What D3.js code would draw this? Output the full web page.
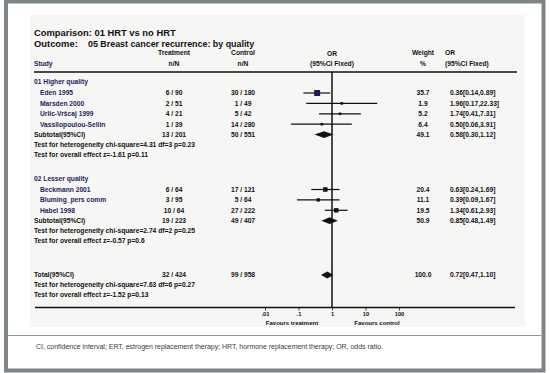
<!DOCTYPE html>
<html><head><meta charset="utf-8">
<script src="https://cdn.jsdelivr.net/npm/d3@7"></script>
<style>
html,body{margin:0;padding:0;background:#fff;}
svg{display:block;}
text{font-family:"Liberation Sans",Arial,sans-serif;}
</style></head>
<body>
<svg id="chart" width="550" height="373"></svg>
<script>
// ---- data ----
const groupNames = ["01 Higher quality", "02 Lesser quality"];
const studyNames = [
  ["Eden 1995", "Marsden 2000", "Urlic-Vršcaj 1999", "Vassilopoulou-Sellin"],
  ["Beckmann 2001", "Bluming_pers comm", "Habel 1998"]
];
const treatmentNN = [["6 / 90", "2 / 51", "4 / 21", "1 / 39"], ["6 / 64", "3 / 95", "10 / 64"]];
const controlNN = [["30 / 180", "1 / 49", "5 / 42", "14 / 280"], ["17 / 121", "5 / 64", "27 / 222"]];
const weights = [[35.7, 1.9, 5.2, 6.4], [20.4, 11.1, 19.5]];
const orValues = [[0.36, 1.96, 1.74, 0.50], [0.63, 0.39, 1.34]];
const ciLow = [[0.14, 0.17, 0.41, 0.06], [0.24, 0.09, 0.61]];
const ciHigh = [[0.89, 22.33, 7.31, 3.91], [1.69, 1.67, 2.93]];
const orLabels = [["0.36[0.14,0.89]", "1.96[0.17,22.33]", "1.74[0.41,7.31]", "0.50[0.06,3.91]"],
                  ["0.63[0.24,1.69]", "0.39[0.09,1.67]", "1.34[0.61,2.93]"]];
const subTreatment = ["13 / 201", "19 / 223"];
const subControl = ["50 / 551", "49 / 407"];
const subWeight = ["49.1", "50.9"];
const subOR = [0.58, 0.85];
const subLow = [0.30, 0.48];
const subHigh = [1.12, 1.49];
const subLabel = ["0.58[0.30,1.12]", "0.85[0.48,1.49]"];
const hetText = ["Test for heterogeneity chi-square=4.31  df=3  p=0.23", "Test for heterogeneity chi-square=2.74  df=2  p=0.25"];
const effText = ["Test for overall effect  z=-1.61  p=0.11", "Test for overall effect  z=-0.57  p=0.6"];
const totalRow = {treat: "32 / 424", ctrl: "99 / 958", weight: "100.0", or: 0.72, lo: 0.47, hi: 1.10, label: "0.72[0.47,1.10]"};
const totalHet = "Test for heterogeneity chi-square=7.63  df=6  p=0.27";
const totalEff = "Test for overall effect  z=-1.52  p=0.13";
const tickValues = [0.01, 0.1, 1, 10, 100];
const tickLabels = [".01", ".1", "1", "10", "100"];
const footnote = "CI, confidence interval; ERT, estrogen replacement therapy; HRT, hormone replacement therapy; OR, odds ratio.";

// ---- layout ----
const svg = d3.select("#chart");
const ink = "#111", navy = "#24245c";
const fs = 6.7;

// frame
svg.append("rect").attr("x", 30).attr("y", 15).attr("width", 495).attr("height", 312).attr("fill", "#f6f6f4");
svg.append("rect").attr("x", 6).attr("y", 1.5).attr("width", 537.5).attr("height", 369)
  .attr("fill", "none").attr("stroke", "#7e8588").attr("stroke-width", 4);
svg.append("line").attr("x1", 8).attr("x2", 541).attr("y1", 335.5).attr("y2", 335.5)
  .attr("stroke", "#8d9295").attr("stroke-width", 1);

const x = d3.scaleLog().domain([0.01, 100]).range([265, 399]);
const colT = 174, colC = 243, colW = 423, colOR = 450, xLeft = 34, xIndent = 40;
const yHeadLine = 72, yAxis = 307.5;

function txt(str, xx, yy, opts = {}) {
  return svg.append("text").attr("x", xx).attr("y", yy).attr("dy", "0.35em")
    .attr("font-size", opts.size || fs).attr("font-weight", opts.weight || "bold")
    .attr("fill", opts.fill || ink).attr("text-anchor", opts.anchor || "start").text(str);
}

// titles
txt("Comparison: 01 HRT vs no HRT", xLeft, 33, {size: 9.4});
txt("Outcome:", xLeft, 43.5, {size: 9.4});
txt("05 Breast cancer recurrence: by quality", 88, 43.5, {size: 8.9});

// column headers
txt("Treatment", colT, 53, {anchor: "middle"});
txt("n/N", colT, 63.5, {anchor: "middle"});
txt("Control", colC, 53, {anchor: "middle"});
txt("n/N", colC, 63.5, {anchor: "middle"});
txt("Study", xLeft, 63.5, {fill: navy});
txt("OR", x(1), 54, {anchor: "middle"});
txt("(95%CI Fixed)", x(1), 63.5, {anchor: "middle"});
txt("Weight", colW, 53, {anchor: "middle"});
txt("%", colW, 63.5, {anchor: "middle"});
txt("OR", 445, 53);
txt("(95%CI Fixed)", 445, 63.5);

svg.append("line").attr("x1", 34).attr("x2", 517).attr("y1", yHeadLine).attr("y2", yHeadLine)
  .attr("stroke", ink).attr("stroke-width", 1.3);

// vertical line at OR = 1
svg.append("line").attr("x1", x(1)).attr("x2", x(1)).attr("y1", yHeadLine).attr("y2", yAxis)
  .attr("stroke", ink).attr("stroke-width", 1.5);

function diamond(lo, mid, hi, yy) {
  const h = 3.4;
  svg.append("path").attr("d",
    `M${x(lo)},${yy} L${x(mid)},${yy - h} L${x(hi)},${yy} L${x(mid)},${yy + h} Z`).attr("fill", ink);
}

const groupTop = [82, 178.5];
const rowStep = 10.4;
groupNames.forEach((g, gi) => {
  let y0 = groupTop[gi];
  txt(g, xLeft, y0, {fill: navy});
  studyNames[gi].forEach((s, i) => {
    const yy = y0 + 11 + i * rowStep;
    txt(s, xIndent, yy, {fill: navy});
    txt(treatmentNN[gi][i], colT, yy, {anchor: "middle"});
    txt(controlNN[gi][i], colC, yy, {anchor: "middle"});
    txt(weights[gi][i].toFixed(1), colW, yy, {anchor: "middle"});
    txt(orLabels[gi][i], colOR, yy);
    svg.append("line").attr("x1", x(ciLow[gi][i])).attr("x2", x(ciHigh[gi][i]))
      .attr("y1", yy).attr("y2", yy).attr("stroke", ink).attr("stroke-width", 1.2);
    const sz = Math.max(2.6, Math.sqrt(weights[gi][i]) * 1.0);
    svg.append("rect").attr("x", x(orValues[gi][i]) - sz / 2).attr("y", yy - sz / 2)
      .attr("width", sz).attr("height", sz).attr("fill", i === 0 && gi === 0 ? "#1c1c55" : ink);
  });
  const n = studyNames[gi].length;
  const ys = y0 + 11 + n * rowStep;
  txt("Subtotal(95%CI)", xLeft, ys);
  txt(subTreatment[gi], colT, ys, {anchor: "middle"});
  txt(subControl[gi], colC, ys, {anchor: "middle"});
  txt(subWeight[gi], colW, ys, {anchor: "middle"});
  txt(subLabel[gi], colOR, ys);
  diamond(subLow[gi], subOR[gi], subHigh[gi], ys);
  txt(hetText[gi], xLeft, ys + 10.2);
  txt(effText[gi], xLeft, ys + 20);
});

// total
const yt = 275;
txt("Total(95%CI)", xLeft, yt);
txt(totalRow.treat, colT, yt, {anchor: "middle"});
txt(totalRow.ctrl, colC, yt, {anchor: "middle"});
txt(totalRow.weight, colW, yt, {anchor: "middle"});
txt(totalRow.label, colOR, yt);
diamond(totalRow.lo, totalRow.or, totalRow.hi, yt);
txt(totalHet, xLeft, yt + 10);
txt(totalEff, xLeft, yt + 20);

// axis
svg.append("line").attr("x1", 35).attr("x2", 515).attr("y1", yAxis).attr("y2", yAxis)
  .attr("stroke", ink).attr("stroke-width", 1.5);
const axis = d3.axisBottom(x).tickValues(tickValues).tickSize(3)
  .tickFormat((d, i) => tickLabels[i]);
const ax = svg.append("g").attr("transform", `translate(0,${yAxis})`).call(axis);
ax.select(".domain").remove();
ax.selectAll(".tick line").attr("stroke", ink).attr("stroke-width", 0.8);
ax.selectAll(".tick text").attr("font-size", 5.8).attr("font-weight", "bold")
  .attr("font-family", "Liberation Sans, Arial, sans-serif").attr("fill", ink).attr("y", 4).attr("dy", "0.71em");
txt("Favours treatment", 292, 322.5, {anchor: "middle", size: 6});
txt("Favours control", 377, 322.5, {anchor: "middle", size: 6});

// footnote
svg.append("text").attr("x", 36).attr("y", 347).attr("dy", "0.35em")
  .attr("font-size", 6.8).attr("fill", "#3a3a3a").attr("textLength", 347).attr("lengthAdjust", "spacingAndGlyphs")
  .text(footnote);
</script>
</body></html>
